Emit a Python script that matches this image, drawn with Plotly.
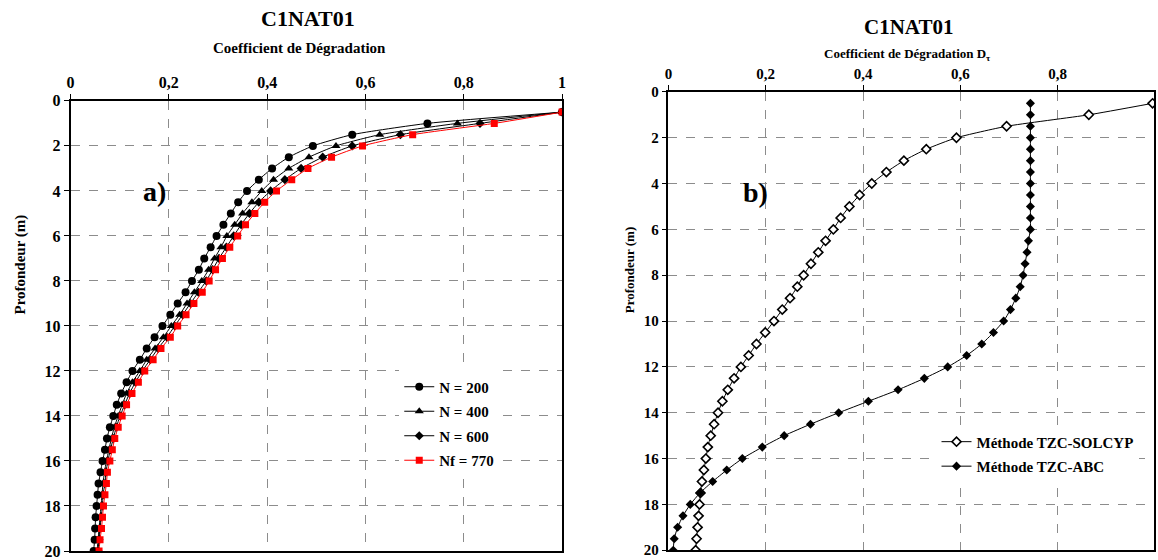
import plotly.graph_objects as go

# ---------------- data ----------------
depth = [0.5, 1.0, 1.5, 2.0, 2.5, 3.0, 3.5, 4.0, 4.5, 5.0,
         5.5, 6.0, 6.5, 7.0, 7.5, 8.0, 8.5, 9.0, 9.5, 10.0,
         10.5, 11.0, 11.5, 12.0, 12.5, 13.0, 13.5, 14.0, 14.5, 15.0,
         15.5, 16.0, 16.5, 17.0, 17.5, 18.0, 18.5, 19.0, 19.5, 20.0]

n200 = [1.0, 0.726, 0.573, 0.493, 0.444, 0.410, 0.383, 0.359, 0.341, 0.326,
        0.311, 0.297, 0.285, 0.272, 0.261, 0.247, 0.234, 0.218, 0.203, 0.187,
        0.171, 0.155, 0.141, 0.126, 0.114, 0.103, 0.094, 0.087, 0.080, 0.074,
        0.070, 0.065, 0.061, 0.057, 0.055, 0.053, 0.051, 0.050, 0.049, 0.047]

n400 = [1.0, 0.787, 0.629, 0.540, 0.485, 0.444, 0.413, 0.389, 0.369, 0.350,
        0.334, 0.318, 0.306, 0.293, 0.281, 0.267, 0.252, 0.237, 0.222, 0.205,
        0.189, 0.172, 0.155, 0.141, 0.126, 0.114, 0.105, 0.097, 0.089, 0.083,
        0.078, 0.073, 0.069, 0.066, 0.064, 0.062, 0.060, 0.058, 0.056, 0.054]

n600 = [1.0, 0.833, 0.671, 0.573, 0.513, 0.469, 0.436, 0.407, 0.383, 0.364,
        0.347, 0.332, 0.317, 0.302, 0.289, 0.276, 0.260, 0.244, 0.228, 0.212,
        0.196, 0.178, 0.162, 0.146, 0.132, 0.120, 0.110, 0.101, 0.093, 0.087,
        0.081, 0.076, 0.072, 0.070, 0.066, 0.065, 0.062, 0.060, 0.058, 0.056]

nf770 = [1.0, 0.862, 0.696, 0.594, 0.531, 0.483, 0.450, 0.419, 0.395, 0.375,
         0.356, 0.340, 0.324, 0.309, 0.295, 0.282, 0.268, 0.251, 0.235, 0.218,
         0.203, 0.184, 0.168, 0.151, 0.138, 0.125, 0.114, 0.105, 0.097, 0.090,
         0.085, 0.080, 0.075, 0.073, 0.070, 0.067, 0.065, 0.063, 0.060, 0.058]

solcyp = [0.995, 0.864, 0.695, 0.592, 0.530, 0.484, 0.448, 0.418, 0.393, 0.372,
          0.354, 0.339, 0.323, 0.308, 0.293, 0.278, 0.265, 0.250, 0.234, 0.217,
          0.199, 0.181, 0.165, 0.149, 0.135, 0.122, 0.111, 0.102, 0.094, 0.087,
          0.081, 0.077, 0.073, 0.069, 0.066, 0.064, 0.062, 0.060, 0.058, 0.056]

abc = [0.744, 0.744, 0.744, 0.744, 0.744, 0.744, 0.744, 0.744, 0.744, 0.744,
       0.744, 0.744, 0.740, 0.737, 0.733, 0.729, 0.723, 0.714, 0.703, 0.689,
       0.668, 0.644, 0.613, 0.574, 0.526, 0.472, 0.411, 0.350, 0.292, 0.238,
       0.193, 0.152, 0.120, 0.091, 0.065, 0.045, 0.030, 0.019, 0.012, 0.010]

x_tickvals = [0, 0.2, 0.4, 0.6, 0.8, 1.0]
x_ticktext = ["0", "0,2", "0,4", "0,6", "0,8", "1"]
y_tickvals = [0, 2, 4, 6, 8, 10, 12, 14, 16, 18, 20]

# ---------------- layout helpers ----------------
W, H = 1158, 560
FONT = "Liberation Serif, Times New Roman, serif"
Y_OFF, Y_SCALE = 8.0, 0.971   # measured page offset / scale in the capture


def px(x):
    return x / W


def py(y):
    v = 1 - ((y - Y_OFF) / Y_SCALE) / H
    return min(max(v, 0.0), 1.0)


fig = go.Figure()

line_kw = dict(width=1, shape="spline", smoothing=0.5)

left_series = [
    ("N = 200", n200, "circle", 8, "black"),
    ("N = 400", n400, "triangle-up", 8, "black"),
    ("N = 600", n600, "diamond", 7, "black"),
    ("Nf = 770", nf770, "square", 7, "#ff0000"),
]
for name, vals, sym, size, col in left_series:
    fig.add_trace(go.Scatter(
        x=vals, y=depth, name=name, mode="lines+markers",
        line=dict(color=col, **line_kw),
        marker=dict(symbol=sym, size=size, color=col, line=dict(width=0)),
        xaxis="x", yaxis="y", legend="legend", legendgroup=name,
    ))

fig.add_trace(go.Scatter(
    x=solcyp, y=depth, name="Méthode TZC-SOLCYP", mode="lines+markers",
    line=dict(color="black", **line_kw),
    marker=dict(symbol="diamond", size=7, color="white",
                line=dict(color="black", width=1.6)),
    xaxis="x2", yaxis="y2", legend="legend2", legendgroup="solcyp",
))
fig.add_trace(go.Scatter(
    x=abc, y=depth, name="Méthode TZC-ABC", mode="lines+markers",
    line=dict(color="black", **line_kw),
    marker=dict(symbol="diamond", size=7, color="black", line=dict(width=0)),
    xaxis="x2", yaxis="y2", legend="legend2", legendgroup="abc",
))

axis_common = dict(
    showline=True, linecolor="black", linewidth=1.5, mirror=True,
    showgrid=True, gridcolor="#8c8c8c", griddash="dash", gridwidth=1,
    zeroline=False, ticks="outside", ticklen=5, tickcolor="black",
    ticklabeloverflow="allow",
)

fig.update_layout(
    width=W, height=H,
    margin=dict(l=0, r=0, t=0, b=0),
    paper_bgcolor="white", plot_bgcolor="white",
    font=dict(family=FONT, color="black"),
    xaxis=dict(axis_common, domain=[px(67), px(562)], range=[0, 1],
               side="top", anchor="y",
               tickvals=x_tickvals, ticktext=x_ticktext,
               tickfont=dict(size=16, weight="bold", family=FONT)),
    yaxis=dict(axis_common, domain=[py(552), py(101)], range=[20, 0],
               anchor="x", tickvals=y_tickvals,
               tickfont=dict(size=16, weight="bold", family=FONT)),
    xaxis2=dict(axis_common, domain=[px(669), 1.0], range=[0, (W - 669) / 490],
                side="top", anchor="y2",
                tickvals=x_tickvals, ticktext=x_ticktext,
                tickfont=dict(size=15, weight="bold", family=FONT)),
    yaxis2=dict(axis_common, domain=[py(551), py(92)], range=[20, 0],
                anchor="x2", tickvals=y_tickvals,
                tickfont=dict(size=15, weight="bold", family=FONT)),
    legend=dict(x=px(398), y=py(371), xanchor="left", yanchor="top",
                bgcolor="white", borderwidth=0, tracegroupgap=2,
                font=dict(size=15, weight="bold", family=FONT)),
    legend2=dict(x=px(939), y=py(426), xanchor="left", yanchor="top",
                 bgcolor="white", borderwidth=0, tracegroupgap=2,
                 font=dict(size=15, weight="bold", family=FONT)),
    showlegend=True,
)

annotations = [
    dict(text="<b>C1NAT01</b>", x=px(306), y=py(19), size=22),
    dict(text="<b>Coefficient de Dégradation</b>", x=px(298), y=py(48), size=15),
    dict(text="<b>C1NAT01</b>", x=px(911), y=py(27), size=21),
    dict(text="<b>Coefficient de Dégradation D<sub>τ</sub></b>", x=px(910), y=py(55), size=13),
    dict(text="<b>a)</b>", x=px(152), y=py(192), size=28),
    dict(text="<b>b)</b>", x=px(757), y=py(193), size=28),
]
for a in annotations:
    fig.add_annotation(text=a["text"], x=a["x"], y=a["y"], xref="paper", yref="paper",
                       xanchor="center", yanchor="middle", showarrow=False,
                       font=dict(size=a["size"], family=FONT, color="black"))

fig.add_annotation(text="<b>Profondeur (m)</b>", x=px(17), y=py(265), xref="paper", yref="paper",
                   textangle=-90, showarrow=False, xanchor="center", yanchor="middle",
                   font=dict(size=15, family=FONT, color="black"))
fig.add_annotation(text="<b>Profondeur (m)</b>", x=px(630), y=py(270), xref="paper", yref="paper",
                   textangle=-90, showarrow=False, xanchor="center", yanchor="middle",
                   font=dict(size=13, family=FONT, color="black"))

fig.write_html(
    "out.html",
    config={"displayModeBar": False},
    post_script="document.body.style.margin='0';document.body.style.overflow='hidden';",
)
